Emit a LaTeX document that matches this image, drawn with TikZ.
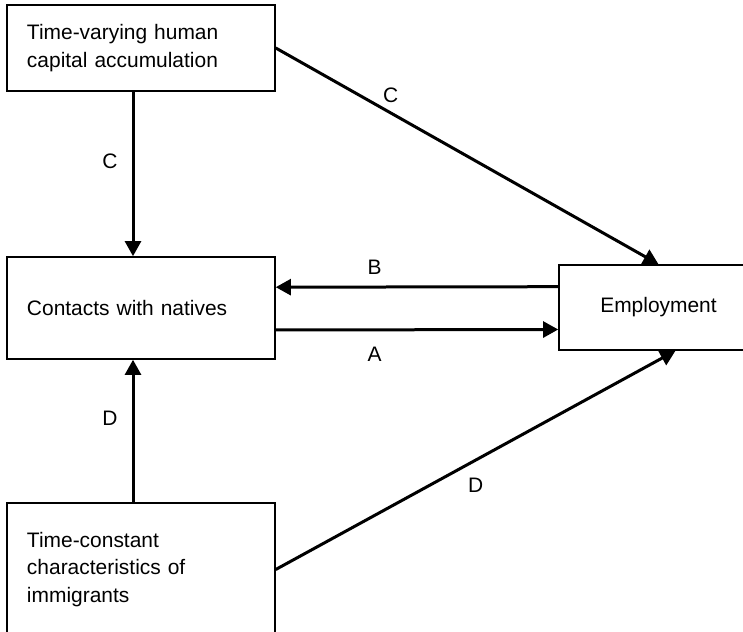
\documentclass[tikz,border=0pt]{standalone}
\usepackage{fontspec}
\setmainfont{Liberation Sans}
\usetikzlibrary{arrows.meta}

\begin{document}
\begin{tikzpicture}[
        font=\fontsize{14.9pt}{19.5pt}\selectfont,
        box/.style={draw, line width=0.038cm, text width=5.7cm, inner xsep=0.5cm, align=left, minimum width=6.7cm},
        link/.style={line width=0.075cm, -{Triangle[length=0.38cm,width=0.4cm]}}
    ]
        \useasboundingbox (0,0) rectangle (18.575,-15.8);

        \node[box, minimum height=2.15cm] (humcap) at (3.525,-1.2) {Time-varying human\\capital accumulation};
        \node[box, minimum height=2.55cm] (contacts) at (3.525,-7.7) {Contacts with natives};
        \node[box, minimum height=3.325cm] (timeconst) at (3.525,-14.2375) {Time-constant\\characteristics of\\immigrants};
        \node[draw, line width=0.038cm, minimum width=4.975cm, minimum height=2.125cm] (employ) at (16.4625,-7.6875) {Employment};

        \draw[link] ([xshift=-0.2cm]humcap.south) -- ([xshift=-0.2cm]contacts.north) node[pos=0.42, xshift=-0.575cm] {C};
        \draw[link] (humcap.east) -- (employ.north) node[pos=0.3, yshift=0.45cm] {C};
        \draw[link] ([yshift=0.52cm]employ.west) -- ([yshift=0.52cm]contacts.east) node[pos=0.65, yshift=0.5cm] {B};
        \draw[link] ([yshift=-0.55cm]contacts.east) -- ([yshift=-0.55cm]employ.west) node[pos=0.35, yshift=-0.6cm] {A};
        \draw[link] ([xshift=-0.2cm]timeconst.north) -- ([xshift=-0.2cm]contacts.south) node[pos=0.59, xshift=-0.575cm] {D};
        \draw[link] (timeconst.east) -- ([xshift=0.425cm]employ.south) node[pos=0.5, yshift=-0.625cm] {D};
    \end{tikzpicture}
\end{document}
